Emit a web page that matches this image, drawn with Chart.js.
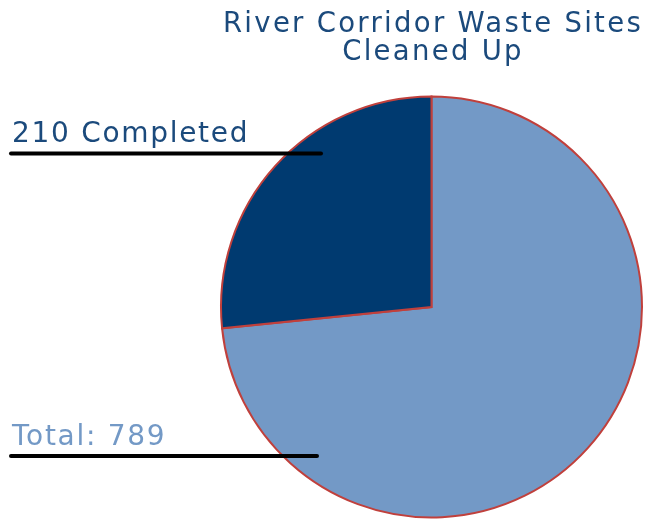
<!DOCTYPE html>
<html><head><meta charset="utf-8">
<script src="https://cdn.jsdelivr.net/npm/chart.js@4"></script>
<style>html,body{margin:0;padding:0;background:#fff;}#wrap{width:646px;height:519px;}</style>
</head><body><div id="wrap"><canvas id="c" width="646" height="519"></canvas></div>
<script>
const categories = ["Remaining", "Completed"];
const siteCounts = [579, 210];
const totalSites = 789;
const titleLines = ["River Corridor Waste Sites", "Cleaned Up"];
const labelCompleted = "210 Completed";
const labelTotal = "Total: 789";

const textPlugin = {
  id: 'texts',
  afterDraw(chart) {
    const ctx = chart.ctx;
    ctx.save();
    ctx.letterSpacing = '2.3px';
    ctx.font = '27.5px "DejaVu Sans"';
    ctx.fillStyle = '#1b4a7c';
    ctx.textAlign = 'center';
    ctx.textBaseline = 'alphabetic';
    ctx.fillText(titleLines[0], 433, 32);
    ctx.fillText(titleLines[1], 433, 60);
    ctx.textAlign = 'left';
    ctx.letterSpacing = '1.7px';
    ctx.font = '28px "DejaVu Sans"';
    ctx.fillStyle = '#1b4a7c';
    ctx.fillText(labelCompleted, 12, 142);
    ctx.fillStyle = '#7399c6';
    ctx.fillText(labelTotal, 12, 445);
    ctx.strokeStyle = '#000';
    ctx.lineWidth = 4;
    ctx.lineCap = 'round';
    ctx.beginPath(); ctx.moveTo(11, 153.5); ctx.lineTo(321, 153.5); ctx.stroke();
    ctx.beginPath(); ctx.moveTo(11, 456); ctx.lineTo(317, 456); ctx.stroke();
    ctx.restore();
  }
};

new Chart(document.getElementById('c'), {
  type: 'pie',
  data: {
    labels: categories,
    datasets: [{
      data: siteCounts,
      backgroundColor: ['#7399c6', '#003a70'],
      borderColor: '#c0403c',
      borderWidth: 2,
      borderJoinStyle: 'miter'
    }]
  },
  options: {
    responsive: false,
    animation: false,
    layout: { padding: { left: 220, right: 3, top: 95, bottom: 0 } },
    plugins: { legend: { display: false }, tooltip: { enabled: false }, title: { display: false } }
  },
  plugins: [textPlugin]
});
</script></body></html>
